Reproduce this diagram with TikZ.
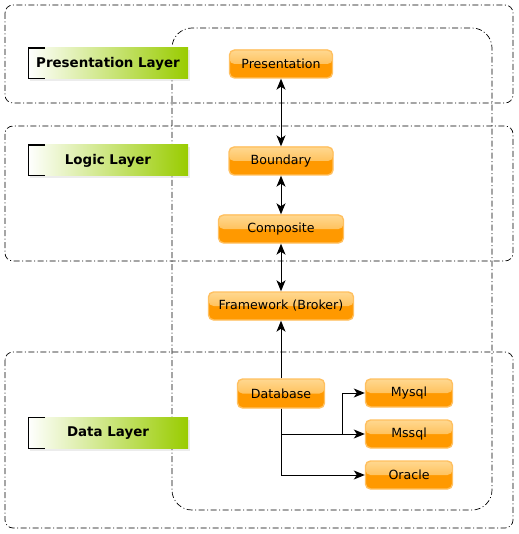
\documentclass[tikz,border=0pt]{standalone}
\usepackage{fontspec}
\setmainfont{DejaVu Sans}
\usepackage{tikz}
\usetikzlibrary{shadows,arrows.meta}

\definecolor{layergreen}{HTML}{99CC00}
\definecolor{boxorange}{HTML}{FF9900}
\definecolor{boxlight}{HTML}{FFD890}
\definecolor{boxedge}{HTML}{FFC060}

\tikzset{
  layerframe/.style={draw,dash pattern=on 6pt off 2.5pt on 1pt off 2.5pt,line width=0.7pt,rounded corners=8pt},
  layerlabel/.style={left color=white,right color=layergreen,minimum width=160pt,minimum height=31pt,
    inner sep=0pt,font=\bfseries\fontsize{13.4}{15}\selectfont,
    drop shadow={opacity=0.15,shadow xshift=2pt,shadow yshift=-2pt},
    path picture={\draw[line width=1.4pt] ([xshift=17pt]path picture bounding box.north west)
      -- (path picture bounding box.north west) -- (path picture bounding box.south west)
      -- ([xshift=17pt]path picture bounding box.south west);}},
  unit/.style={draw=boxedge,line width=1.4pt,rounded corners=5pt,fill=boxorange,minimum height=28pt,
    inner sep=0pt,font=\fontsize{12.6}{14}\selectfont,
    path picture={\fill[top color=boxlight,bottom color=boxorange!70!boxlight]
      (path picture bounding box.north west) rectangle (path picture bounding box.east);}},
  link/.style={line width=1pt}
}

\begin{document}
\begin{tikzpicture}[x=1pt,y=-1pt,>={Stealth[length=11pt,width=9pt,inset=3pt]}]
      \useasboundingbox (0,0) rectangle (518,534);
      % layers
      \draw [layerframe] (5,5) rectangle (513,103);
      \draw [layerframe] (5,126) rectangle (513,261);
      \draw [layerframe] (5,352) rectangle (513,528);
      \draw [layerframe,rounded corners=20pt] (172,28) rectangle (492,510);
      \node [layerlabel] (presLayer) at (108,63.5) {Presentation Layer};
      \node [layerlabel] (logicLayer) at (108,160.5) {Logic Layer};
      \node [layerlabel] (dataLayer) at (108,433) {Data Layer};
      % components
      \node [unit,minimum width=103pt] (pres) at (281,64) {Presentation};
      \node [unit,minimum width=104pt] (bound) at (281,161) {Boundary};
      \node [unit,minimum width=125pt] (comp) at (281,229) {Composite};
      \node [unit,minimum width=145pt] (broker) at (281,306) {Framework (Broker)};
      \node [unit,minimum width=87pt,minimum height=29pt] (db) at (281,393.5) {Database};
      \foreach \name/\y in {Mysql/393,Mssql/434,Oracle/475}{
        \node [unit,minimum width=87pt] (\name) at (409,\y) {\name};
      }
      \draw [link,<->] (pres) -- (bound);
      \draw [link,<->] (bound) -- (comp);
      \draw [link,<->] (comp) -- (broker);
      \draw [link,->] (db) -- (broker);
      \coordinate (split) at (342,434);
      \draw [link,->] (db) |- (Mssql);
      \draw [link,->] (db) |- (Oracle);
      \draw [link,->] (split) |- (Mysql);
    \end{tikzpicture}
\end{document}
